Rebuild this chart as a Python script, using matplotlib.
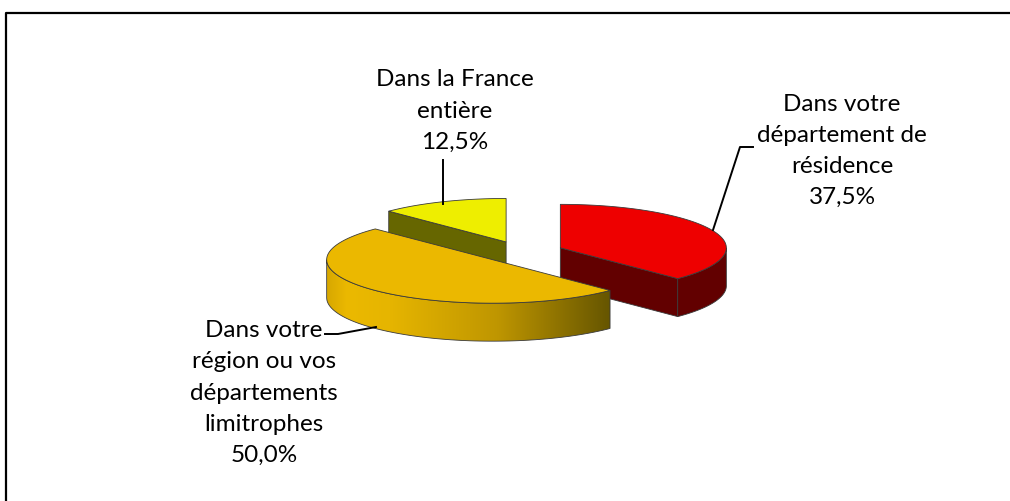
"""3D-style exploded pie: where respondents look for work."""

import numpy as np
import matplotlib.pyplot as plt
from matplotlib.patches import Polygon
from matplotlib.colors import LinearSegmentedColormap

# slices, clockwise from 12 o'clock (Excel order)
labels = [
    "Dans votre\ndépartement de\nrésidence",
    "Dans votre\nrégion ou vos\ndépartements\nlimitrophes",
    "Dans la France\nentière",
]
values = [37.5, 50.0, 12.5]
pct_labels = ["37,5%", "50,0%", "12,5%"]

top_colors = ["#ee0000", "#ebb800", "#eeee00"]
side_colors = ["#620000", "#c59a00", "#666600"]
side_gradients = [None, ["#d8a800", "#ebb900", "#e6b500", "#bf9600", "#655500"], None]

# geometry in pixels
CX, CY = 522, 252
RX, RY = 166, 43.5
DEPTH = 38
EXPLODE = 0.25
EDGE = "#3a3a3a"

FONT = ["Lato", "DejaVu Sans"]


def rim(theta, cx, cy, dz=0.0):
    t = np.radians(theta)
    return cx + RX * np.sin(t), cy - RY * np.cos(t) + dz


def arc(t1, t2, cx, cy, dz=0.0, n=80):
    th = np.linspace(t1, t2, n)
    x, y = rim(th, cx, cy, dz)
    return np.column_stack([x, y])


fig = plt.figure(figsize=(10.10, 5.01), dpi=100)
ax = fig.add_axes([0, 0, 1, 1])
ax.set_xlim(0, 1010)
ax.set_ylim(501, 0)
ax.axis("off")

# chart frame (right and bottom edges fall outside the picture)
ax.plot([6, 6, 1012], [505, 13, 13], color="black", lw=1.6, solid_capstyle="projecting")

total = sum(values)
starts = np.cumsum([0] + values[:-1]) / total * 360
ends = np.cumsum(values) / total * 360

slices = []
for i, (s, e) in enumerate(zip(starts, ends)):
    mid = np.radians((s + e) / 2)
    cx = CX + EXPLODE * RX * np.sin(mid)
    cy = CY - EXPLODE * RY * np.cos(mid)
    slices.append((cy, i, s, e, cx))

# paint back to front
for cy, i, s, e, cx in sorted(slices):
    # radial faces
    faces = []
    if 180 < s < 360:
        faces.append(s)
    if 0 < (e % 360) < 180:
        faces.append(e)
    for th in faces:
        px, py = rim(th, cx, cy)
        quad = [(cx, cy), (px, py), (px, py + DEPTH), (cx, cy + DEPTH)]
        ax.add_patch(Polygon(quad, closed=True, fc=side_colors[i], ec=EDGE, lw=0.6))

    # outer wall, front half only
    a1, a2 = max(s, 90), min(e, 270)
    if a2 > a1:
        top = arc(a1, a2, cx, cy)
        bot = arc(a2, a1, cx, cy, DEPTH)
        wall = np.vstack([top, bot])
        if side_gradients[i] is None:
            ax.add_patch(Polygon(wall, closed=True, fc=side_colors[i], ec=EDGE, lw=0.6))
        else:
            cmap = LinearSegmentedColormap.from_list(
                "wall", list(zip([0, 0.07, 0.22, 0.6, 1.0], side_gradients[i])))
            x0, x1 = wall[:, 0].min(), wall[:, 0].max()
            y0, y1 = wall[:, 1].min(), wall[:, 1].max()
            # light on the left, darkening towards the right
            grad = np.linspace(0, 1, 256)[None, :]
            patch = Polygon(wall, closed=True, fc="none", ec=EDGE, lw=0.6, zorder=3)
            ax.add_patch(patch)
            im = ax.imshow(grad, cmap=cmap, extent=(x0, x1, y1, y0),
                           aspect="auto", zorder=2, interpolation="bilinear")
            im.set_clip_path(patch)

    # top face
    face = np.vstack([[cx, cy], arc(s, e, cx, cy)])
    ax.add_patch(Polygon(face, closed=True, fc=top_colors[i], ec=EDGE, lw=0.6, zorder=4))

ax.set_xlim(0, 1010)
ax.set_ylim(501, 0)

# data labels with leader lines
label_pos = [(842, 151), (264, 393), (455, 111)]
leaders = [
    [(753, 147), (740, 147), (713, 230)],
    [(325, 334), (338, 334), (376, 327)],
    [(443, 160), (443, 204)],
]
for i in range(len(values)):
    x, y = label_pos[i]
    ax.text(x, y, labels[i] + "\n" + pct_labels[i], ha="center", va="center",
            fontsize=17.5, family=FONT, color="black", linespacing=1.6, zorder=6)
    lx, ly = zip(*leaders[i])
    ax.plot(lx, ly, color="black", lw=1.4, zorder=5)

fig.savefig("out.png", dpi=100)
